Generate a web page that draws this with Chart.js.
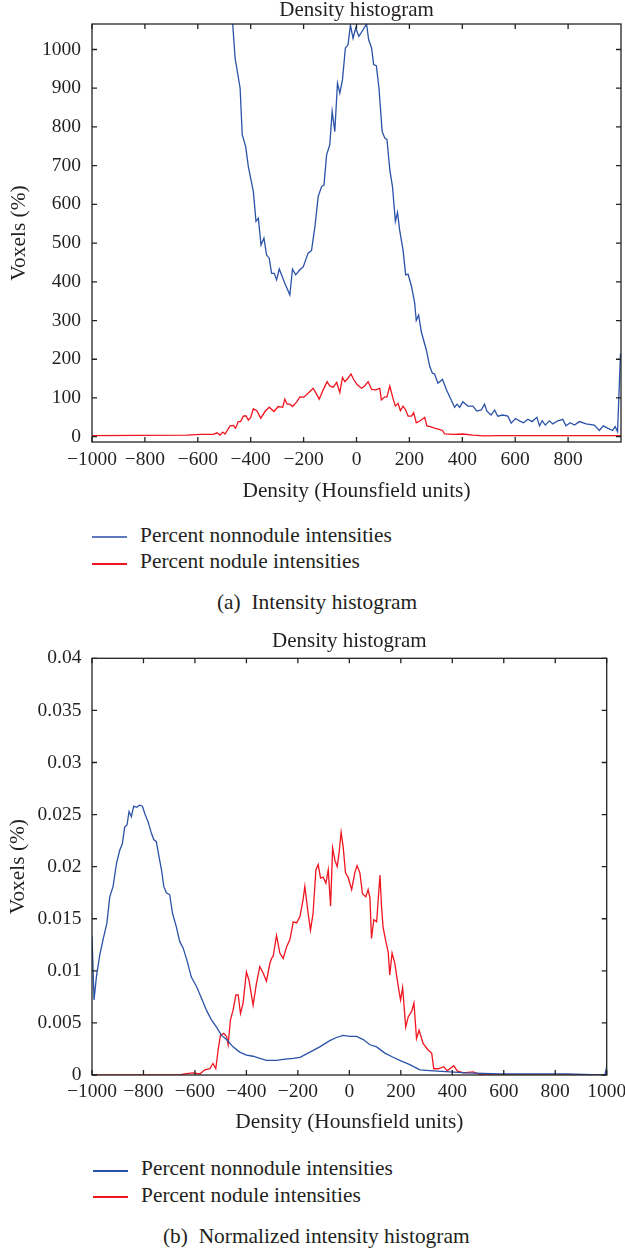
<!DOCTYPE html>
<html><head><meta charset="utf-8">
<script src="https://cdn.jsdelivr.net/npm/chart.js@4.4.1/dist/chart.umd.min.js"></script>
<style>
html,body{margin:0;padding:0;background:#fff;}
body{width:625px;height:1253px;position:relative;overflow:hidden;font-family:"Liberation Serif","Times New Roman",serif;color:#231f20;}
canvas{position:absolute;left:0;}
.t{position:absolute;font-size:21.4px;line-height:21px;white-space:pre;}
.ln{position:absolute;width:35px;}
</style></head><body>
<canvas id="cA" width="625" height="510" style="top:0"></canvas>
<canvas id="cB" width="625" height="512" style="top:625px"></canvas>

<div class="ln" style="left:92px;top:536px;height:2px;background:#5f79be"></div>
<div class="t" style="left:140px;top:525.1px">Percent nonnodule intensities</div>
<div class="ln" style="left:92px;top:563px;height:2px;background:#f0141e"></div>
<div class="t" style="left:140px;top:551.4px">Percent nodule intensities</div>
<div class="t" style="left:217px;top:592.4px">(a)  Intensity histogram</div>

<div class="ln" style="left:93px;top:1170px;height:2px;background:#2a52a8"></div>
<div class="t" style="left:141px;top:1158.4px">Percent nonnodule intensities</div>
<div class="ln" style="left:93px;top:1196px;height:2px;background:#f0141e"></div>
<div class="t" style="left:141px;top:1185.1px">Percent nodule intensities</div>
<div class="t" style="left:163px;top:1226.4px">(b)  Normalized intensity histogram</div>

<script>
// ---------- Data ----------
const xTicks = [-1000, -800, -600, -400, -200, 0, 200, 400, 600, 800, 1000];
const xTicksA = [-1000, -800, -600, -400, -200, 0, 200, 400, 600, 800];
const yTicksA = [0, 100, 200, 300, 400, 500, 600, 700, 800, 900, 1000];
const yTicksB = [0, 0.005, 0.01, 0.015, 0.02, 0.025, 0.03, 0.035, 0.04];
const yLabelsB = ['0', '0.005', '0.01', '0.015', '0.02', '0.025', '0.03', '0.035', '0.04'];

// (a) Intensity histogram - nonnodule (blue)
const nonnoduleA_x = [-1000, -960, -900, -850, -800, -750, -700, -650, -600, -550, -500, -480, -468,
  -459, -440, -432, -419, -409, -390, -380, -371, -361, -350, -340, -330, -321, -311, -302, -292, -271,
  -252, -242, -230, -214, -201, -183, -170, -157, -145, -132, -123, -113, -101, -92, -82, -72, -63, -53,
  -42, -32, -23, -13, -3, 9, 25, 38, 46, 57, 65, 75, 85, 97, 107, 115, 126, 136, 147, 155, 163, 176,
  186, 195, 208, 220, 226, 235, 245, 264, 277, 287, 295, 308, 325, 340, 358, 371, 380, 390, 402, 421,
  440, 455, 472, 484, 493, 509, 522, 534, 553, 572, 585, 601, 616, 631, 648, 664, 682, 692, 702, 714,
  729, 742, 761, 780, 792, 808, 824, 843, 868, 899, 918, 933, 949, 968, 978, 987, 998];
const nonnoduleA_y = [3700, 3700, 5800, 7000, 7350, 6400, 5000, 3600, 2400, 1700, 1250, 1120, 1066,
  978, 900, 780, 749, 698, 633, 556, 564, 495, 513, 469, 461, 422, 422, 405, 433, 396,
  366, 433, 418, 431, 439, 474, 481, 543, 620, 646, 650, 728, 754, 840, 788, 913, 887, 922,
  1004, 1012, 1063, 1029, 1055, 1034, 1051, 1066, 1025, 1004, 961, 958, 900, 788, 771, 768, 689, 646, 556, 579, 534, 482,
  418, 420, 388, 345, 300, 314, 271, 224, 181, 164, 162, 138, 148, 121, 95, 76, 84, 76, 90, 79,
  79, 66, 69, 84, 66, 56, 69, 53, 56, 53, 35, 47, 41, 36, 45, 39, 50, 28, 41, 30,
  41, 33, 41, 45, 28, 36, 30, 39, 33, 30, 16, 28, 22, 16, 26, 13, 215];

// (a) Intensity histogram - nodule (red)
const noduleA_x = [-1000, -641, -591, -541, -528, -516, -506, -497, -478, -466, -457, -447, -438, -428,
  -418, -409, -400, -390, -377, -362, -346, -330, -312, -296, -279, -271, -262, -252, -242, -226, -214,
  -199, -183, -164, -151, -141, -126, -111, -101, -88, -75, -63, -53, -44, -32, -21, -10, 3, 19, 31, 44,
  57, 73, 88, 94, 107, 115, 126, 138, 147, 157, 166, 176, 186, 195, 208, 216, 226, 241, 258, 266, 279,
  295, 312, 325, 333, 365, 402, 440, 478, 541, 1000];
const noduleA_y = [3, 4, 6, 6, 10, 4, 12, 7, 28, 29, 22, 39, 39, 53,
  54, 43, 50, 72, 67, 48, 65, 76, 65, 78, 76, 97, 84, 84, 78, 90, 103,
  102, 112, 125, 110, 97, 121, 142, 131, 128, 140, 114, 153, 142, 151, 162, 147, 134, 125, 131, 142,
  122, 121, 125, 95, 103, 103, 131, 99, 79, 86, 67, 79, 69, 53, 53, 62, 36, 41, 50, 28, 26,
  22, 19, 16, 7, 6, 7, 4, 2, 3, 3];

// (b) Normalized intensity histogram - nonnodule (blue)
const nonnoduleB_x = [-1000, -992, -983, -970, -957, -942, -931, -918, -905, -892, -882, -873, -864, -856,
  -847, -838, -827, -815, -804, -795, -782, -769, -760, -750, -740, -730, -721, -711, -698, -687, -672,
  -659, -646, -631, -614, -594, -575, -555, -536, -516, -497, -477, -452, -426, -400, -374, -348, -322,
  -283, -257, -218, -192, -153, -115, -76, -50, -24, 2, 28, 54, 80, 106, 138, 170, 196, 235, 274, 326,
  391, 456, 585, 715, 844, 974, 993, 1000];
const nonnoduleB_y = [0.0133, 0.0072, 0.0094, 0.0115, 0.0130, 0.0146, 0.0171, 0.0181, 0.0203, 0.0216, 0.0222, 0.0238, 0.0240, 0.0253,
  0.0248, 0.0258, 0.0257, 0.0259, 0.0258, 0.0251, 0.0243, 0.0232, 0.0226, 0.0224, 0.0210, 0.0197, 0.0181, 0.0175, 0.0173, 0.0155, 0.0142,
  0.0128, 0.0122, 0.0110, 0.0094, 0.0085, 0.0074, 0.0062, 0.0053, 0.0046, 0.0038, 0.0034, 0.0027, 0.0022, 0.0019, 0.0018, 0.0016, 0.0014,
  0.0014, 0.0015, 0.0016, 0.0017, 0.0022, 0.0027, 0.0033, 0.0036, 0.0038, 0.0037, 0.0037, 0.0034, 0.0029, 0.0027, 0.0021, 0.0017, 0.0014, 0.0010, 0.0005, 0.0004,
  0.0003, 0.0002, 0.0001, 0.0001, 0.0001, 0.0, 0.0, 0.0008];

// (b) Normalized intensity histogram - nodule (red)
const noduleB_x = [-1000, -660, -640, -607, -581, -562, -542, -530, -519, -510, -501, -488, -477, -471,
  -462, -452, -441, -432, -423, -413, -400, -390, -374, -361, -348, -335, -322, -309, -302, -296, -283,
  -270, -257, -244, -231, -218, -205, -192, -180, -173, -160, -151, -141, -130, -121, -112, -102, -91,
  -82, -73, -65, -56, -47, -40, -32, -24, -15, -5, 9, 21, 30, 41, 51, 64, 73, 80, 86, 95, 106, 112, 119,
  125, 131, 142, 151, 157, 166, 177, 190, 199, 207, 219, 229, 242, 251, 261, 271, 287, 306, 320, 328,
  345, 367, 380, 406, 419, 443, 481, 501, 520, 1000];
const noduleB_y = [0, 0, 0.0001, 0.0002, 0.0001, 0.0005, 0.0006, 0.0011, 0.0006, 0.0024, 0.0038, 0.0040, 0.0037, 0.0029,
  0.0053, 0.0062, 0.0077, 0.0077, 0.0059, 0.0069, 0.0099, 0.0091, 0.0067, 0.0088, 0.0104, 0.0098, 0.0090, 0.0107, 0.0112, 0.0114, 0.0134,
  0.0117, 0.0112, 0.0123, 0.0130, 0.0147, 0.0146, 0.0152, 0.0168, 0.0181, 0.0155, 0.0139, 0.0155, 0.0197, 0.0202, 0.0189, 0.0190, 0.0184,
  0.0197, 0.0162, 0.0218, 0.0206, 0.0200, 0.0213, 0.0233, 0.0219, 0.0194, 0.0190, 0.0178, 0.0194, 0.0201, 0.0194, 0.0174, 0.0171, 0.0178, 0.0170, 0.0131, 0.0149, 0.0147, 0.0168, 0.0192,
  0.0162, 0.0142, 0.0128, 0.0118, 0.0096, 0.0117, 0.0107, 0.0085, 0.0072, 0.0084, 0.0046, 0.0056, 0.0061, 0.0069, 0.0035, 0.0043, 0.0030, 0.0024, 0.0021, 0.0006,
  0.0006, 0.0008, 0.0004, 0.0009, 0.0004, 0.0002, 0.0003, 0.0001, 0, 0];

// ---------- Rendering ----------
const FONT = "'Liberation Serif', 'Times New Roman', serif";
const TXT = '#231f20';
const BLUE = '#2a52a8';
const RED = '#f0141e';

function pts(xs, ys) { return xs.map((x, i) => ({ x: x, y: ys[i] })); }
function fmtX(v) { return v < 0 ? '\u2212' + (-v) : String(v); }

const framePlugin = {
  id: 'frame',
  afterDatasetsDraw(chart) {
    const { ctx, chartArea: a, scales: { x, y } } = chart;
    const L = 5;
    ctx.save();
    ctx.strokeStyle = '#222';
    ctx.lineWidth = 1.3;
    ctx.strokeRect(a.left, a.top, a.right - a.left, a.bottom - a.top);
    ctx.beginPath();
    x.ticks.forEach(t => {
      const p = x.getPixelForValue(t.value);
      ctx.moveTo(p, a.bottom); ctx.lineTo(p, a.bottom - L);
      ctx.moveTo(p, a.top); ctx.lineTo(p, a.top + L);
    });
    y.ticks.forEach(t => {
      const p = y.getPixelForValue(t.value);
      ctx.moveTo(a.left, p); ctx.lineTo(a.left + L, p);
      ctx.moveTo(a.right, p); ctx.lineTo(a.right - L, p);
    });
    ctx.stroke();
    ctx.restore();
  }
};

function makeChart(id, cfg) {
  return new Chart(document.getElementById(id), {
    type: 'line',
    data: {
      datasets: [
        { label: 'Percent nonnodule intensities', data: pts(cfg.bx, cfg.by), borderColor: BLUE, borderWidth: 1.3, pointRadius: 0, tension: 0, fill: false },
        { label: 'Percent nodule intensities', data: pts(cfg.rx, cfg.ry), borderColor: RED, borderWidth: 1.3, pointRadius: 0, tension: 0, fill: false }
      ]
    },
    options: {
      responsive: false,
      animation: false,
      events: [],
      layout: { padding: { left: 0, right: cfg.padRight, top: 0, bottom: 0 } },
      plugins: {
        legend: { display: false },
        tooltip: { enabled: false },
        title: {
          display: true, text: 'Density histogram', fullSize: false, color: TXT,
          font: { family: FONT, size: 21, weight: 'normal', lineHeight: 1 },
          padding: { top: cfg.titleTop, bottom: cfg.titleBottom }
        }
      },
      scales: {
        x: {
          type: 'linear', min: -1000, max: 1000,
          grid: { display: false, drawTicks: false }, border: { display: false },
          afterBuildTicks: s => { s.ticks = cfg.xt.map(v => ({ value: v })); },
          afterFit: s => { s.height = cfg.xH; s.paddingLeft = 0; s.paddingRight = 0; },
          ticks: { autoSkip: false, maxRotation: 0, minRotation: 0, padding: cfg.xTickPad, color: TXT,
            font: { family: FONT, size: 19.5, lineHeight: 1.2 }, callback: (v) => fmtX(v) },
          title: { display: true, text: 'Density (Hounsfield units)', color: TXT,
            font: { family: FONT, size: 21.4, lineHeight: 1.2 }, padding: { top: 0, bottom: cfg.xTitlePad } }
        },
        y: {
          type: 'linear', min: cfg.ymin, max: cfg.ymax,
          grid: { display: false, drawTicks: false }, border: { display: false },
          afterBuildTicks: s => { s.ticks = cfg.yt.map(v => ({ value: v })); },
          afterFit: s => { s.width = 92; s.paddingTop = 0; s.paddingBottom = 0; },
          ticks: { autoSkip: false, padding: cfg.yTickPad, color: TXT,
            font: { family: FONT, size: 19.5, lineHeight: 1.2 }, callback: (v, i) => cfg.yl[i] },
          title: { display: true, text: 'Voxels (%)', color: TXT,
            font: { family: FONT, size: 21.4, lineHeight: 1.2 }, padding: { top: cfg.yTitlePad, bottom: 0 } }
        }
      }
    },
    plugins: [framePlugin]
  });
}

makeChart('cA', {
  bx: nonnoduleA_x, by: nonnoduleA_y, rx: noduleA_x, ry: noduleA_y,
  xt: xTicksA, yt: yTicksA, yl: yTicksA.map(String),
  ymin: -13.7, ymax: 1065.8,
  padRight: 4, titleTop: 0, titleBottom: 3,
  xH: 68, xTickPad: 6.2, xTitlePad: 6.2, yTickPad: 11, yTitlePad: 6.4
});

makeChart('cB', {
  bx: nonnoduleB_x, by: nonnoduleB_y, rx: noduleB_x, ry: noduleB_y,
  xt: xTicks, yt: yTicksB, yl: yLabelsB,
  ymin: 0, ymax: 0.04,
  padRight: 18.3, titleTop: 6.1, titleBottom: 6.2,
  xH: 62, xTickPad: 5.5, xTitlePad: 1.5, yTickPad: 10.6, yTitlePad: 5.4
});
</script>
</body></html>
